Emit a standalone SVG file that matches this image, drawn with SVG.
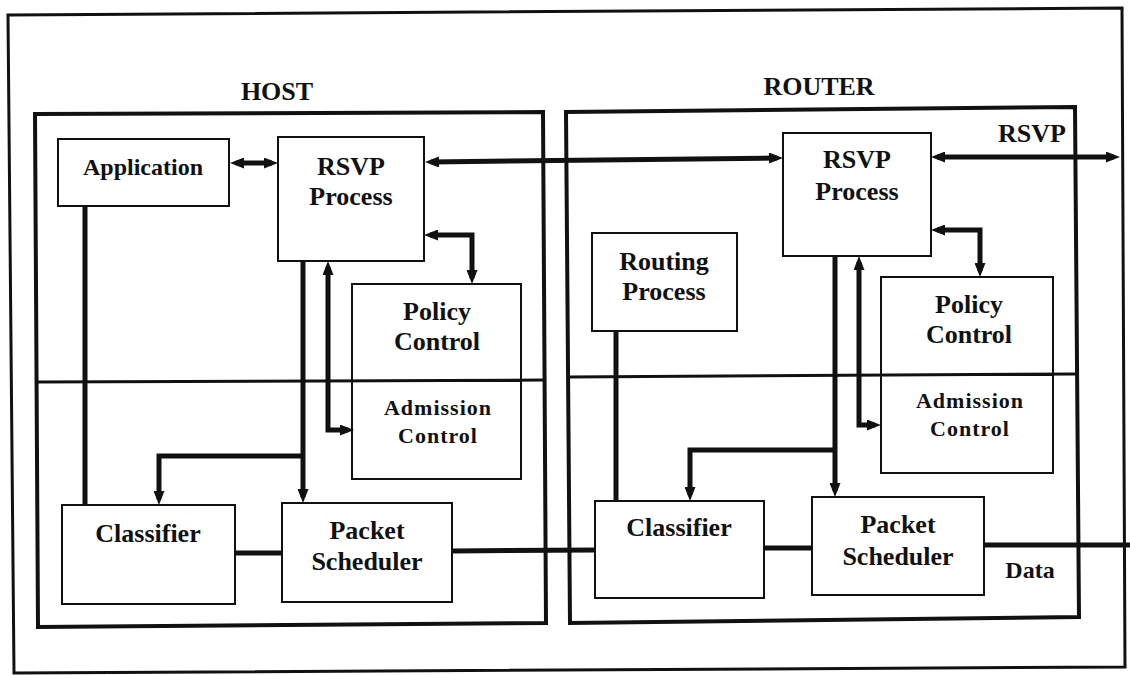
<svg xmlns="http://www.w3.org/2000/svg" width="1130" height="675" viewBox="0 0 1130 675">
<style>
.frame{fill:none;stroke:#111;stroke-width:3}
.container{fill:none;stroke:#111;stroke-width:4}
.box{fill:#fff;stroke:#111;stroke-width:2}
.div{fill:none;stroke:#111;stroke-width:3}
.conn{fill:none;stroke:#111;stroke-width:5}
.lbl{font-family:"Liberation Serif","Times New Roman",serif;font-weight:bold;font-size:26px;text-anchor:middle;fill:#111}
.sm{font-size:22px;letter-spacing:1px}
.app{font-size:24px}
</style>
<defs>
<marker id="ah" markerUnits="userSpaceOnUse" markerWidth="14" markerHeight="11" refX="8" refY="5.5" orient="auto-start-reverse">
<path d="M0,0 L14,5.5 L0,11 z" fill="#111"/>
</marker>
</defs>
<rect width="1130" height="675" fill="#fff"/>
<polygon class="frame" points="8,15 1122,8 1125,667 14,673"/>
<g id="host">
<polygon class="container" points="35,114 543,112 546,623 38,627"/>
<text class="lbl" x="277" y="100">HOST</text>
</g>
<g id="router">
<polygon class="container" points="566,112 1075,107 1079,617 570,623"/>
<text class="lbl" x="819" y="95">ROUTER</text>
</g>
<g id="host-application"><rect class="box" x="58" y="139" width="171" height="67"/><text class="lbl app" x="143" y="175">Application</text></g>
<g id="host-rsvp"><rect class="box" x="278" y="137" width="146" height="124"/><text class="lbl" x="351" y="175">RSVP</text><text class="lbl" x="351" y="205">Process</text></g>
<g id="host-policy"><rect class="box" x="352" y="284" width="169" height="97"/><text class="lbl" x="437" y="320">Policy</text><text class="lbl" x="437" y="350">Control</text></g>
<g id="host-admission"><rect class="box" x="352" y="381" width="169" height="98"/><text class="lbl sm" x="438" y="415">Admission</text><text class="lbl sm" x="438" y="443">Control</text></g>
<g id="host-classifier"><rect class="box" x="62" y="505" width="173" height="99"/><text class="lbl" x="148" y="542">Classifier</text></g>
<g id="host-scheduler"><rect class="box" x="282" y="503" width="170" height="99"/><text class="lbl" x="367" y="539">Packet</text><text class="lbl" x="367" y="570">Scheduler</text></g>
<g id="router-rsvp"><rect class="box" x="783" y="133" width="148" height="123"/><text class="lbl" x="857" y="168">RSVP</text><text class="lbl" x="857" y="200">Process</text></g>
<g id="router-routing"><rect class="box" x="592" y="233" width="145" height="98"/><text class="lbl" x="664" y="270">Routing</text><text class="lbl" x="664" y="300">Process</text></g>
<g id="router-policy"><rect class="box" x="881" y="277" width="172" height="98"/><text class="lbl" x="969" y="313">Policy</text><text class="lbl" x="969" y="343">Control</text></g>
<g id="router-admission"><rect class="box" x="881" y="375" width="172" height="98"/><text class="lbl sm" x="970" y="408">Admission</text><text class="lbl sm" x="970" y="436">Control</text></g>
<g id="router-classifier"><rect class="box" x="595" y="501" width="169" height="97"/><text class="lbl" x="679" y="536">Classifier</text></g>
<g id="router-scheduler"><rect class="box" x="812" y="497" width="172" height="98"/><text class="lbl" x="898" y="533">Packet</text><text class="lbl" x="898" y="565">Scheduler</text></g>
<g id="dividers">
<line class="div" x1="37" y1="382" x2="544" y2="380"/>
<line class="div" x1="568" y1="377" x2="1077" y2="374"/>
</g>
<g id="connectors">
<line class="conn" x1="236" y1="163" x2="272" y2="163" marker-start="url(#ah)" marker-end="url(#ah)"/>
<line class="conn" x1="431" y1="162" x2="777" y2="158" marker-start="url(#ah)" marker-end="url(#ah)"/>
<polyline class="conn" points="430,235 472,235 472,278" marker-start="url(#ah)" marker-end="url(#ah)"/>
<line class="conn" x1="303" y1="261" x2="303" y2="497" marker-end="url(#ah)"/>
<polyline class="conn" points="303,456 159,456 159,499" marker-end="url(#ah)"/>
<polyline class="conn" points="328,267 328,430 348,430" marker-start="url(#ah)" marker-end="url(#ah)"/>
<line class="conn" x1="85" y1="206" x2="85" y2="505"/>
<line class="conn" x1="235" y1="553" x2="282" y2="553"/>
<line class="conn" x1="452" y1="551" x2="595" y2="550"/>
<line class="conn" x1="937" y1="157" x2="1114" y2="157" marker-start="url(#ah)" marker-end="url(#ah)"/>
<polyline class="conn" points="937,230 980,230 980,271" marker-start="url(#ah)" marker-end="url(#ah)"/>
<line class="conn" x1="835" y1="256" x2="835" y2="491" marker-end="url(#ah)"/>
<polyline class="conn" points="835,450 690,450 690,495" marker-end="url(#ah)"/>
<polyline class="conn" points="859,262 859,425 875,425" marker-start="url(#ah)" marker-end="url(#ah)"/>
<line class="conn" x1="616" y1="331" x2="616" y2="501"/>
<line class="conn" x1="764" y1="548" x2="812" y2="548"/>
<line class="conn" x1="984" y1="545" x2="1130" y2="545"/>
</g>
<g id="labels">
<text class="lbl" x="1032" y="142">RSVP</text>
<text class="lbl app" x="1030" y="578">Data</text>
</g>
</svg>
